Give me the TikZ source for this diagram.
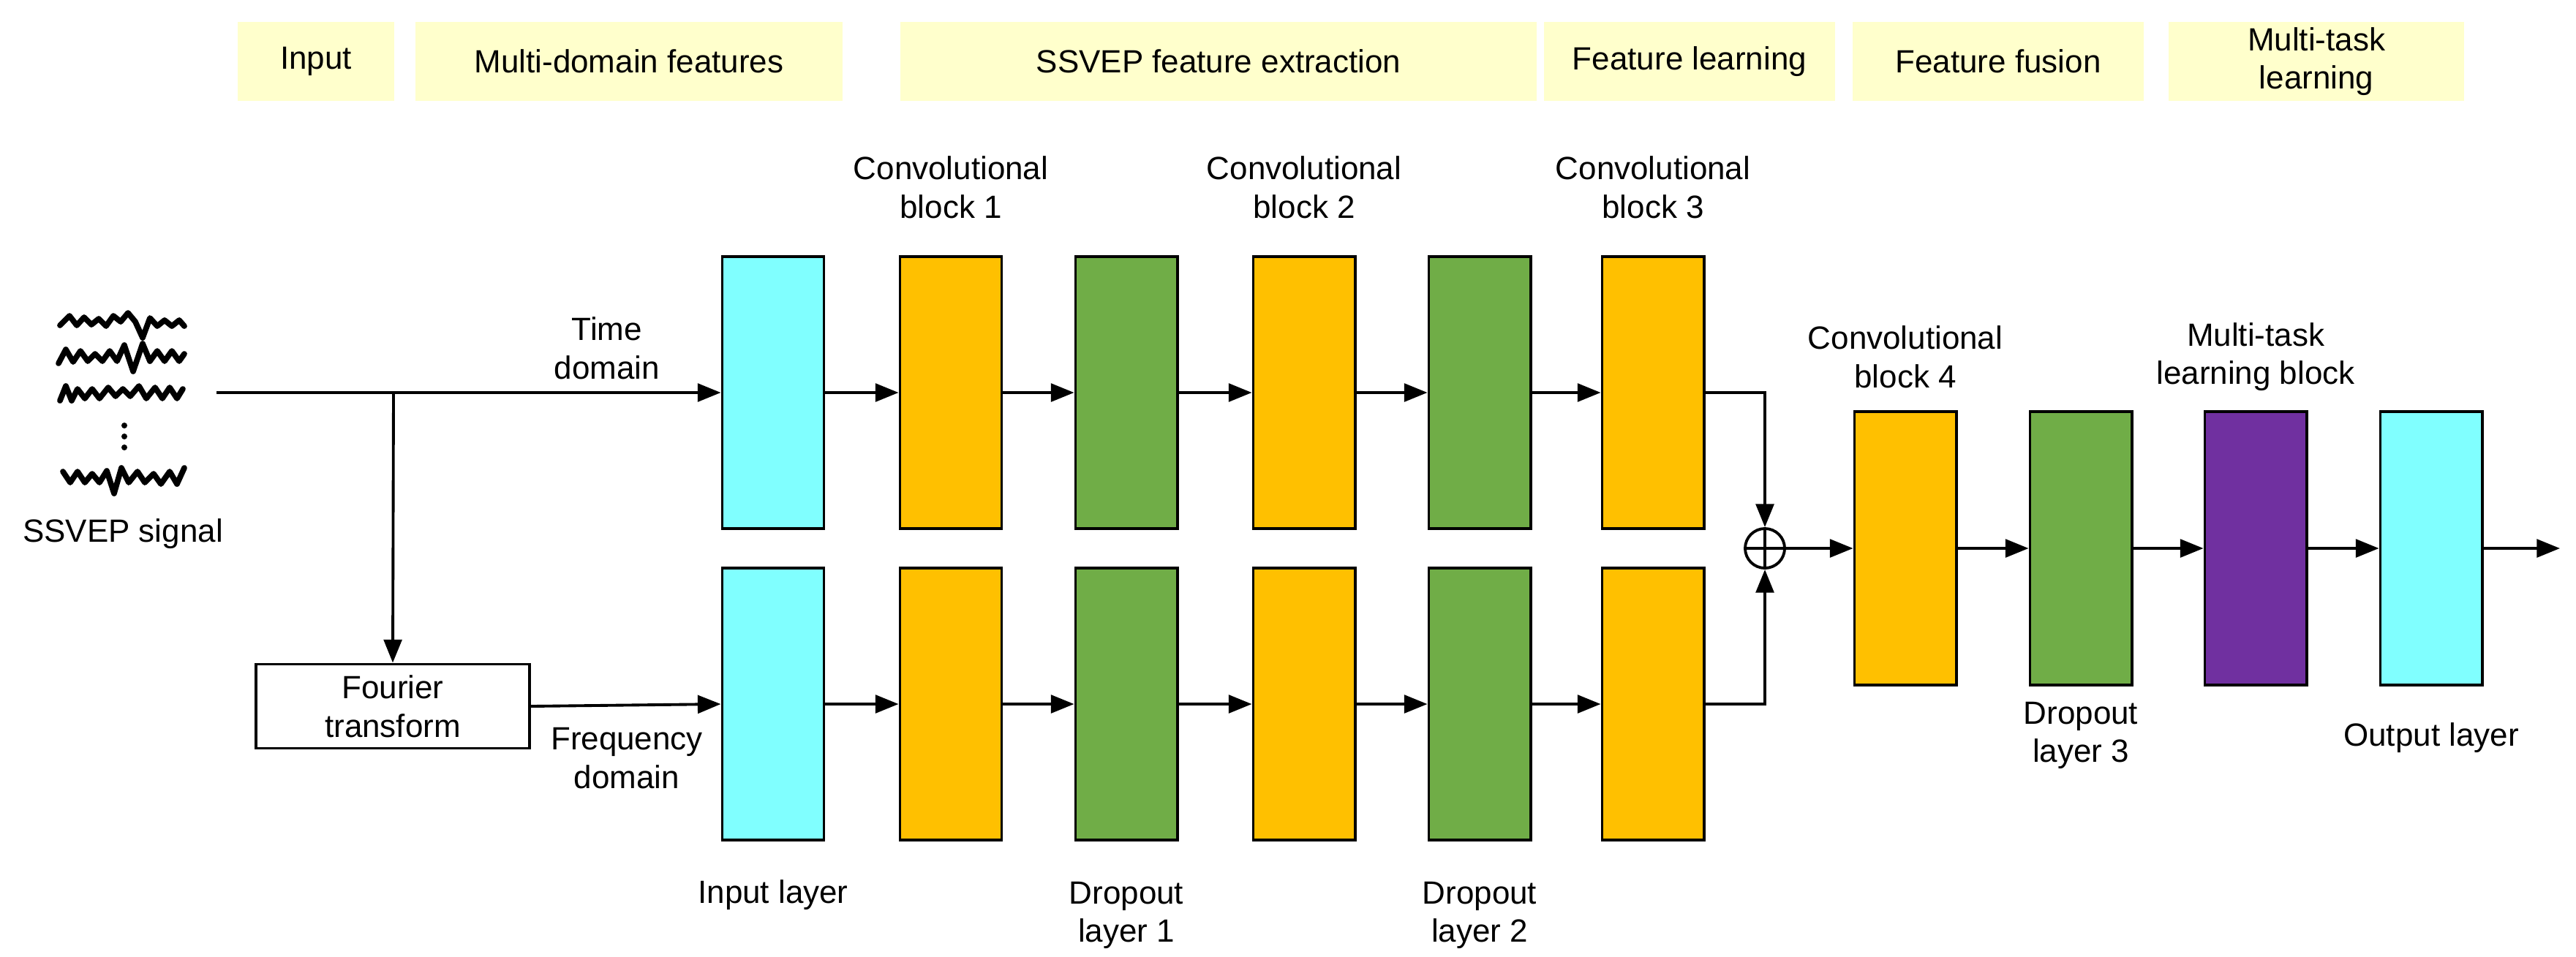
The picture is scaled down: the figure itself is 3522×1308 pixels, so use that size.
\documentclass[tikz,border=0pt]{standalone}
\usepackage{fontspec}
\setmainfont{Liberation Sans}
\usetikzlibrary{arrows.meta}
\definecolor{hdr}{HTML}{FFFFCC}
\definecolor{cy}{HTML}{80FFFF}
\definecolor{og}{HTML}{FFC000}
\definecolor{gr}{HTML}{70AD47}
\definecolor{pu}{HTML}{7030A0}
\begin{document}
\begin{tikzpicture}[x=0.01cm,y=-0.01cm,
  every node/.style={font=\fontsize{12.5}{15}\selectfont, align=center, inner sep=0pt},
  hd/.style={fill=hdr, draw=none, minimum height=1.07cm},
  blk/.style={draw=black, line width=1.1pt, minimum width=1.39cm},
  tb/.style={blk, minimum height=3.72cm},
  ln/.style={line width=1.1pt},
  ar/.style={ln, -{Triangle[length=9pt,width=7pt]}},
  wv/.style={line width=2.2pt, line join=round, line cap=round}]
\useasboundingbox (0,0) rectangle (3522,1308);
% headers
\node[hd, minimum width=2.14cm] (h1) at (432,84) {Input};
\node[hd, minimum width=5.84cm] (h2) at (860,84) {Multi-domain features};
\node[hd, minimum width=8.69cm] (h3) at (1666,84) {SSVEP feature extraction};
\node[hd, minimum width=3.98cm] (h4) at (2310,84) {Feature learning};
\node[hd, minimum width=3.98cm] (h5) at (2732,84) {Feature fusion};
\node[hd, minimum width=4.04cm] (h6) at (3167,84) {Multi-task\\learning};
% signals
\draw[wv] (82,445) -- (95,432) -- (105,445) -- (115,434) -- (125,444) -- (135,436) -- (145,446) -- (155,432) -- (165,440) -- (175,428) -- (185,440) -- (195,462) -- (205,435) -- (215,446) -- (225,438) -- (235,446) -- (245,438) -- (252,446);
\draw[wv] (80,497) -- (90,478) -- (100,495) -- (110,480) -- (120,494) -- (130,484) -- (140,494) -- (150,480) -- (160,494) -- (170,472) -- (182,508) -- (195,470) -- (205,494) -- (215,480) -- (225,494) -- (235,480) -- (245,494) -- (252,484);
\draw[wv] (82,548) -- (90,528) -- (98,548) -- (106,532) -- (116,545) -- (126,532) -- (136,545) -- (148,530) -- (158,542) -- (168,532) -- (178,542) -- (190,528) -- (200,545) -- (212,530) -- (222,545) -- (232,530) -- (242,545) -- (250,532);
\foreach \yy in {582,597,612} \fill (170,\yy) circle (4);
\draw[wv] (86,645) -- (96,660) -- (106,645) -- (116,660) -- (126,648) -- (136,660) -- (146,644) -- (156,675) -- (166,640) -- (176,660) -- (188,645) -- (198,660) -- (210,648) -- (220,662) -- (232,645) -- (242,662) -- (252,640);
\node (sig) at (168,730) {SSVEP signal};
\coordinate (s0) at (296,537);
\coordinate (br) at (538,537);
% fourier
\node[draw, line width=1.1pt, minimum width=3.74cm, minimum height=1.15cm] (ft) at (537,966) {Fourier\\transform};
% columns
\def\ta{537}\def\fb{963}
\node[tb, fill=cy] (i1) at (1057,\ta) {};
\node[tb, fill=og] (c1) at (1300,\ta) {};
\node[tb, fill=gr] (d1) at (1540,\ta) {};
\node[tb, fill=og] (c2) at (1783,\ta) {};
\node[tb, fill=gr] (d2) at (2023,\ta) {};
\node[tb, fill=og] (c3) at (2260,\ta) {};
\node[tb, fill=cy] (i2) at (1057,\fb) {};
\node[tb, fill=og] (e1) at (1300,\fb) {};
\node[tb, fill=gr] (f1) at (1540,\fb) {};
\node[tb, fill=og] (e2) at (1783,\fb) {};
\node[tb, fill=gr] (f2) at (2023,\fb) {};
\node[tb, fill=og] (e3) at (2260,\fb) {};
\node[draw, line width=1.1pt, circle, minimum size=0.54cm] (plus) at (2413,750) {};
\draw[ln] (plus.north) -- (plus.south) (plus.west) -- (plus.east);
\node[tb, minimum height=3.73cm, fill=og] (c4) at (2605,750) {};
\node[tb, minimum height=3.73cm, fill=gr] (d3) at (2845,750) {};
\node[tb, minimum height=3.73cm, fill=pu] (mt) at (3084,750) {};
\node[tb, minimum height=3.73cm, fill=cy] (out) at (3324,750) {};
\coordinate (end) at (3500,750);
% labels
\node at (830,476) {Time\\domain};
\node at (857,1037) {Frequency\\domain};
\node at (1300,256) {Convolutional\\block 1};
\node at (1783,256) {Convolutional\\block 2};
\node at (2260,256) {Convolutional\\block 3};
\node at (2605,488) {Convolutional\\block 4};
\node at (3084,488) {Multi-task\\learning block};
\node at (1057,1224) {Input layer};
\node at (1540,1252) {Dropout\\layer 1};
\node at (2023,1252) {Dropout\\layer 2};
\node at (2845,1006) {Dropout\\layer 3};
\node at (3324,1009) {Output layer};
% connectors
\draw[ar] (s0) -- (i1.west);
\draw[ar] (br) -- (ft.north);
\draw[ar] (ft.east) -- (i2.west);
\foreach \a/\b in {i1/c1,c1/d1,d1/c2,c2/d2,d2/c3,i2/e1,e1/f1,f1/e2,e2/f2,f2/e3,c4/d3,d3/mt,mt/out}
  \draw[ar] (\a.east) -- (\b.west);
\draw[ar] (c3.east) -| (plus.north);
\draw[ar] (e3.east) -| (plus.south);
\draw[ar] (plus.east) -- (c4.west);
\draw[ar] (out.east) -- (end);
\end{tikzpicture}
\end{document}
